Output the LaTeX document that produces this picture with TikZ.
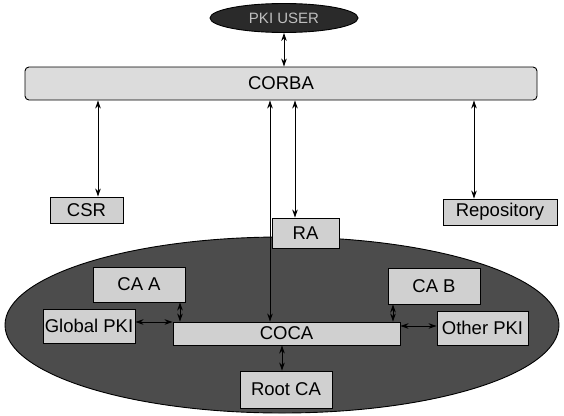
\documentclass[tikz,border=0pt]{standalone}
\usepackage{fontspec}
\setmainfont{Liberation Sans}
\usetikzlibrary{arrows.meta,shapes.geometric}
\definecolor{boxfill}{HTML}{D0D0D0}
\definecolor{barfill}{HTML}{DCDCDC}
\definecolor{ovalfill}{HTML}{4C4C4C}
\definecolor{topfill}{HTML}{2A2A2A}
\tikzset{
  lbl/.style={font=\fontsize{18.5}{21}\selectfont, inner sep=0pt},
  boxn/.style={lbl, draw=black, line width=0.9pt, fill=boxfill, rectangle},
  link/.style={line width=0.9pt, {Stealth[length=8pt,width=5.5pt]}-{Stealth[length=8pt,width=5.5pt]}},
}
\begin{document}
\begin{tikzpicture}[x=1pt,y=-1pt]
\useasboundingbox (0,0) rectangle (564,415);
% top ellipse
\node[ellipse, draw=black, line width=0.9pt, fill=topfill, minimum width=148, minimum height=29, inner sep=0pt,
      text=white!75!black, font=\fontsize{15}{18}\selectfont] (top) at (284,18) {PKI USER};
% CORBA bar
\node[boxn, fill=barfill, rounded corners=4pt, minimum width=512, minimum height=33] (corba) at (281,83.5) {CORBA};
% outer boxes
\node[boxn, minimum width=73, minimum height=26] (csr) at (86.5,210) {CSR};
\node[boxn, minimum width=114, minimum height=26] (repo) at (500,212) {Repository};
% big oval
\node[ellipse, draw=black, line width=0.9pt, fill=ovalfill, minimum width=554, minimum height=176, inner sep=0pt] (oval) at (282,325) {};
% inner boxes
\node[boxn, minimum width=92, minimum height=35] (caa) at (139,284.5) {CA A};
\node[boxn, minimum width=92, minimum height=36] (cab) at (434,286) {CA B};
\node[boxn, minimum width=92, minimum height=34] (gpki) at (89,326) {Global PKI};
\node[boxn, minimum width=227, minimum height=23] (coca) at (286.5,333.5) {COCA};
\node[boxn, minimum width=91, minimum height=34] (opki) at (482.5,328) {Other PKI};
\node[boxn, minimum width=92, minimum height=37] (root) at (286,389.5) {Root CA};
\node[boxn, minimum width=67, minimum height=30] (ra) at (305.5,233) {RA};
% connectors
\draw[link] (top.south) -- (top.south |- corba.north);
\draw[link] ([xshift=11.5]csr.north) -- ([xshift=11.5]csr.north |- corba.south);
\draw[link] ([xshift=-10.5]ra.north) -- ([xshift=-10.5]ra.north |- corba.south);
\draw[link] ([xshift=-26]repo.north) -- ([xshift=-26]repo.north |- corba.south);
\draw[link] ([xshift=-16.5]coca.north) -- ([xshift=-16.5]coca.north |- corba.south);
\draw[link] ([xshift=41]caa.south) -- ([xshift=41]caa.south |- coca.north);
\draw[link] ([xshift=-41]cab.south) -- ([xshift=-41]cab.south |- coca.north);
\draw[link] ([yshift=4]gpki.east) -- ([yshift=4]gpki.east -| coca.west);
\draw[link] ([yshift=2]opki.west) -- ([yshift=2]opki.west -| coca.east);
\draw[link] ([xshift=-4.5]coca.south) -- ([xshift=-4.5]coca.south |- root.north);
\end{tikzpicture}
\end{document}
